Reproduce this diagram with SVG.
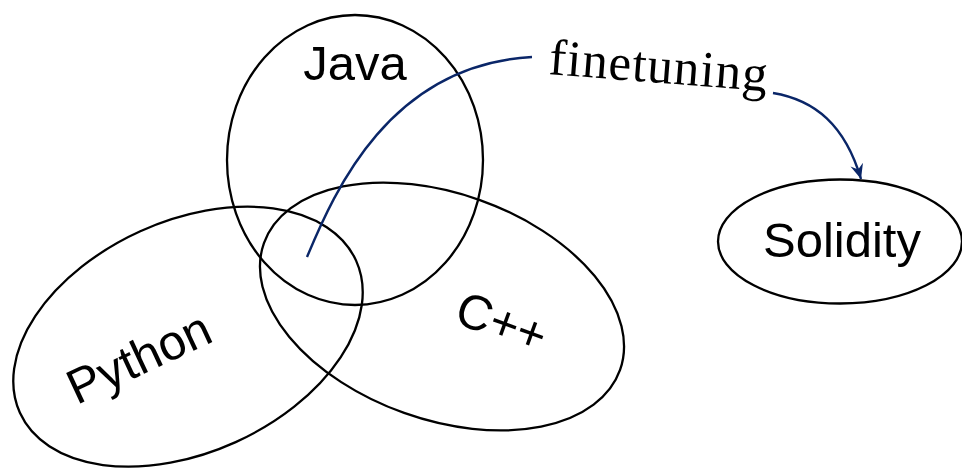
<svg xmlns="http://www.w3.org/2000/svg" width="962" height="469" viewBox="0 0 962 469">
<style>
.n{fill:none;stroke:#000;stroke-width:2.3}
.t{font-family:"Liberation Sans",Arial,sans-serif;font-size:49px;fill:#000;text-anchor:middle}
.c{fill:none;stroke:#0a2668;stroke-width:2.4}
.lbl{font-family:"Liberation Serif","Times New Roman",serif;font-size:51px;fill:#000}
</style>
<defs>
<marker id="ah" viewBox="-15 -7 17 14" markerWidth="17" markerHeight="14" refX="0" refY="0" orient="auto" markerUnits="userSpaceOnUse">
<path d="M0,0 L-15,-6.5 L-10,0 L-15,6.5 Z" fill="#0a2668"/>
</marker>
</defs>
<g id="java">
<ellipse class="n" cx="355" cy="160" rx="128" ry="145"/>
<text class="t" x="355" y="80">Java</text>
</g>
<g id="python">
<ellipse class="n" cx="188" cy="336.7" rx="184.5" ry="115.7" transform="rotate(-24.35 188 336.7)"/>
<text class="t" x="146" y="373" transform="rotate(-25 146 373)">Python</text>
</g>
<g id="cpp">
<ellipse class="n" cx="442" cy="306.5" rx="189" ry="113" transform="rotate(19.6 442 306.5)"/>
<text class="t" x="496" y="338" transform="rotate(20 496 338)">C++</text>
</g>
<g id="solidity">
<ellipse class="n" cx="840" cy="241.5" rx="122" ry="62"/>
<text class="t" x="842" y="257">Solidity</text>
</g>
<g id="connectors">
<path class="c" d="M307,257 C335,190 390,65 532,57"/>
<text class="lbl" x="548" y="74" textLength="219" lengthAdjust="spacing" transform="rotate(4.5 548 74)">finetuning</text>
<path class="c" d="M773,93 C815,100 845,125 861,179" marker-end="url(#ah)"/>
</g>
</svg>
